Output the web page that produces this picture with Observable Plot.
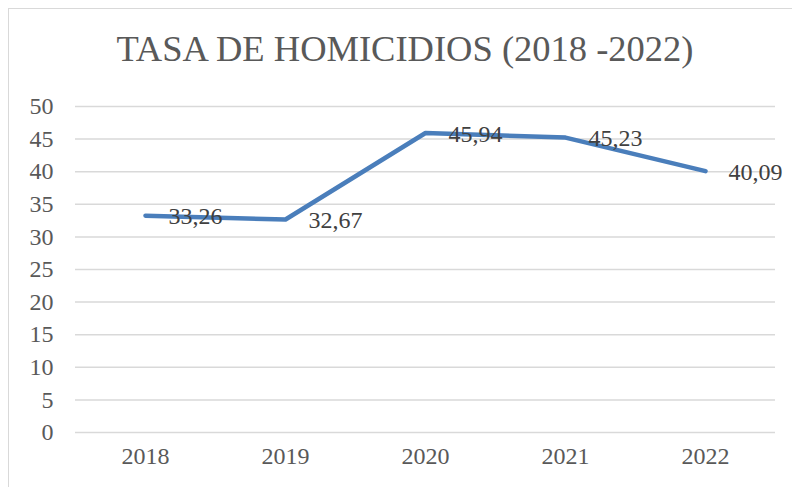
<!DOCTYPE html>
<html>
<head>
<meta charset="utf-8">
<script src="https://cdn.jsdelivr.net/npm/d3@7"></script>
<script src="https://cdn.jsdelivr.net/npm/@observablehq/plot@0.6"></script>
<style>
  html, body { margin: 0; padding: 0; background: #fff; overflow: hidden; }
  #wrap { position: relative; width: 792px; height: 487px; }
  #border { position: absolute; left: 8px; top: 8px; width: 800px; height: 500px; border: 1.5px solid #d9d9d9; box-sizing: border-box; }
  #title { position: absolute; left: 9px; width: 792px; top: 27px; text-align: center; font-family: "Liberation Serif", serif; font-size: 36.5px; color: #595959; white-space: nowrap; }
  #chart { position: absolute; left: 0; top: 0; }
</style>
</head>
<body>
<div id="wrap">
  <div id="border"></div>
  <div id="title">TASA DE HOMICIDIOS (2018 -2022)</div>
  <div id="chart"></div>
</div>
<script>
const years = ["2018", "2019", "2020", "2021", "2022"];
const rates = [33.26, 32.67, 45.94, 45.23, 40.09];
const yTicks = [0, 5, 10, 15, 20, 25, 30, 35, 40, 45, 50];

const data = years.map((y, i) => ({year: y, rate: rates[i]}));
const fmt = v => d3.format(".2f")(v).replace(".", ",");

const chart = Plot.plot({
  width: 792,
  height: 487,
  marginLeft: 75,
  marginRight: 17,
  marginTop: 106,
  marginBottom: 55,
  style: {fontFamily: "'Liberation Serif', serif", fontSize: "24px", color: "#595959", background: "transparent", overflow: "visible"},
  x: {type: "point", domain: years, padding: 0.5, label: null},
  y: {domain: [0, 50], label: null},
  marks: [
    Plot.gridY(yTicks, {stroke: "#d9d9d9", strokeOpacity: 1, strokeWidth: 1.5}),
    Plot.axisY(yTicks, {tickSize: 0, tickPadding: 22, fill: "#595959", fontSize: 24, label: null}),
    Plot.axisX(years, {tickSize: 0, tickPadding: 14, fill: "#595959", fontSize: 24, label: null}),
    Plot.lineY(data, {x: "year", y: "rate", stroke: "#4a7ebb", strokeWidth: 4.5, strokeLinecap: "round", strokeLinejoin: "round"}),
    Plot.text(data, {x: "year", y: "rate", text: d => fmt(d.rate), textAnchor: "start", lineAnchor: "middle", dx: 23, dy: 1, fill: "#404040", fontSize: 24})
  ]
});
document.getElementById("chart").appendChild(chart);
</script>
</body>
</html>
